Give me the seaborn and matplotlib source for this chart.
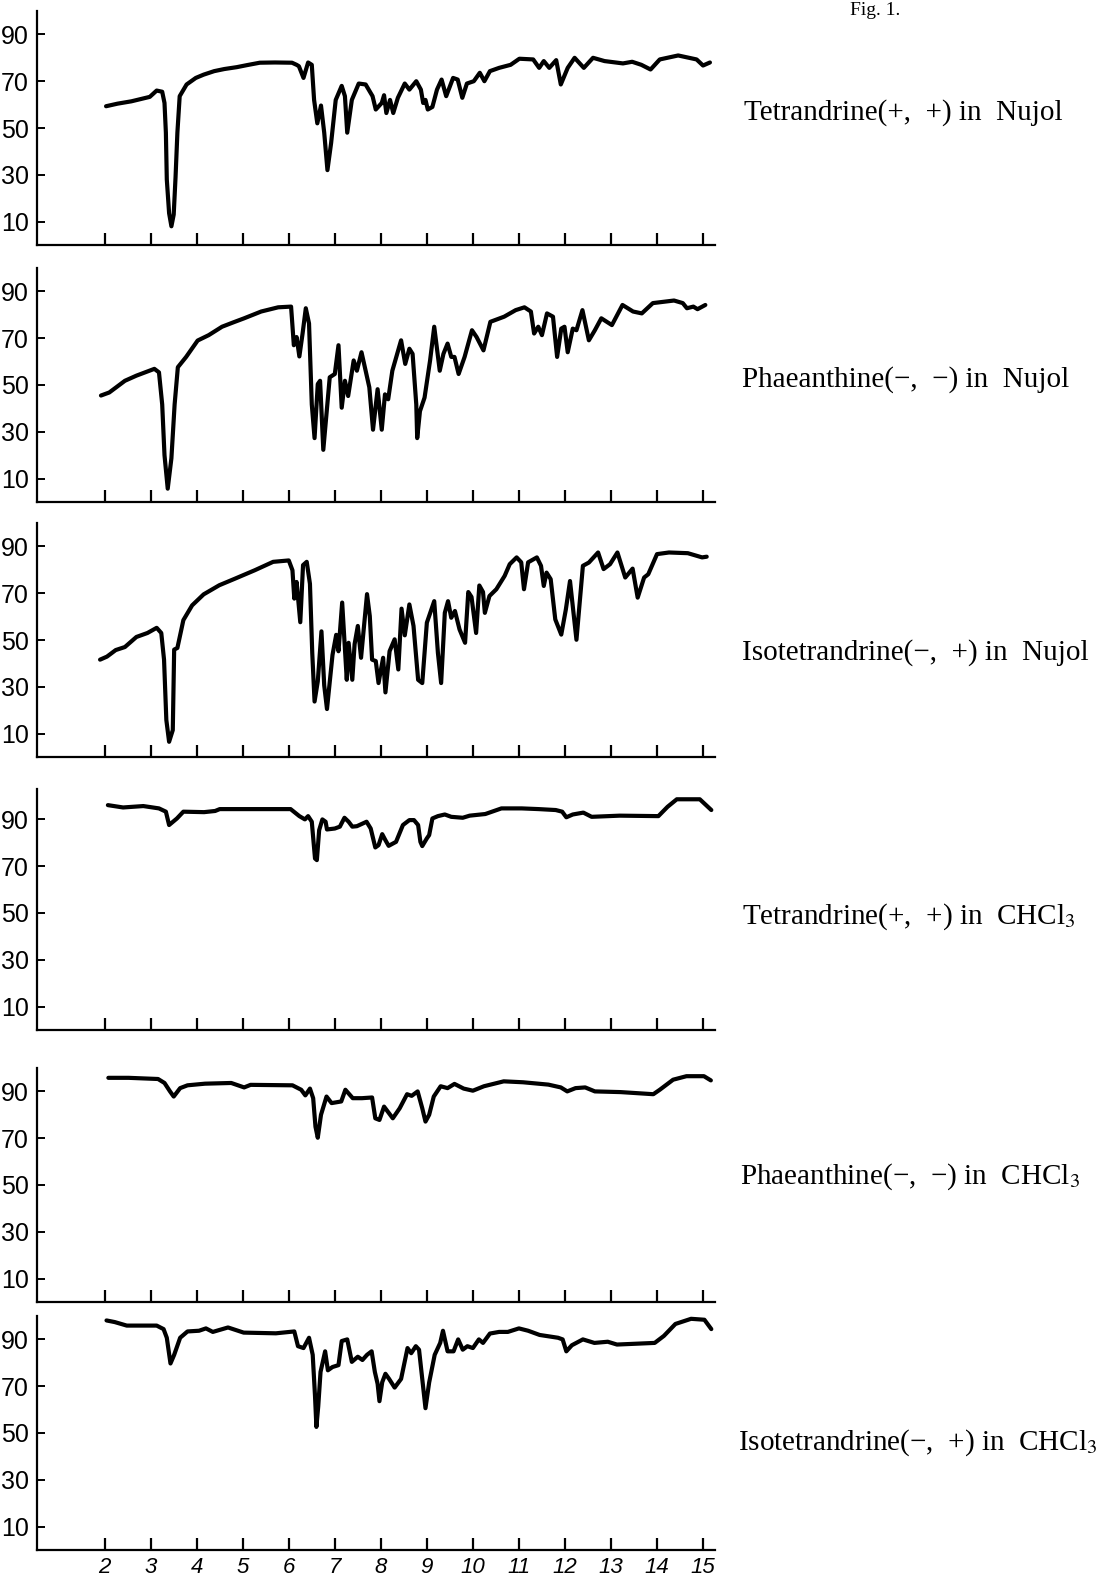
import matplotlib
matplotlib.use("Agg")
import matplotlib.pyplot as plt
import seaborn as sns
import pandas as pd

# ---------------- data (wavelength in micron, % transmittance) ----------------
tet_nujol_x = [2.03, 2.28, 2.58, 2.98, 3.13, 3.25, 3.30, 3.33, 3.35, 3.40, 3.45, 3.50, 3.54, 3.58, 3.63, 3.78,
               3.98, 4.15, 4.38, 4.60, 4.87, 5.10, 5.37, 5.70, 6.07, 6.17, 6.22, 6.32, 6.42, 6.50, 6.55, 6.62,
               6.70, 6.77, 6.84, 6.92, 7.02, 7.15, 7.22, 7.27, 7.37, 7.52, 7.67, 7.82, 7.89, 8.02, 8.07, 8.12,
               8.20, 8.27, 8.37, 8.52, 8.62, 8.77, 8.87, 8.92, 8.97, 9.02, 9.12, 9.22, 9.32, 9.42, 9.57, 9.67,
               9.77, 9.87, 10.02, 10.15, 10.25, 10.37, 10.57, 10.82, 11.01, 11.31, 11.44, 11.54, 11.66, 11.81,
               11.91, 12.06, 12.21, 12.41, 12.61, 12.86, 13.26, 13.46, 13.66, 13.86, 14.06, 14.46, 14.86, 15.00,
               15.15]
tet_nujol_y = [59.3, 60.4, 61.4, 63.3, 66.0, 65.5, 60.7, 48.0, 28.0, 13.6, 8.0, 13.0, 29.0, 48.0, 63.6, 68.6,
               71.4, 72.8, 74.3, 75.2, 76.0, 76.9, 77.9, 78.0, 77.9, 77.0, 76.4, 71.4, 78.0, 77.0, 62.0, 52.0,
               59.6, 48.0, 32.0, 43.6, 62.0, 68.0, 63.6, 48.0, 62.0, 69.0, 68.6, 63.6, 57.9, 60.7, 64.0, 56.4,
               62.0, 56.4, 62.9, 69.0, 66.4, 70.0, 66.4, 60.7, 62.0, 57.9, 59.0, 66.4, 70.7, 63.6, 71.4, 70.7,
               62.9, 69.0, 70.0, 73.6, 70.0, 74.3, 75.7, 77.0, 79.6, 79.3, 75.7, 78.6, 75.7, 79.0,
               68.6, 75.7, 80.0, 75.7, 80.0, 78.6, 77.6, 78.3, 77.0, 75.0, 79.3, 81.0, 79.3, 76.7,
               78.0]

pha_nujol_x = [1.92, 2.10, 2.25, 2.44, 2.69, 3.08, 3.18, 3.25, 3.30, 3.37, 3.45, 3.52, 3.59, 3.77, 4.02, 4.26,
               4.55, 4.80, 5.03, 5.40, 5.77, 6.05, 6.11, 6.17, 6.23, 6.30, 6.37, 6.44, 6.50, 6.56, 6.63, 6.68,
               6.75, 6.89, 7.00, 7.08, 7.15, 7.22, 7.29, 7.41, 7.48, 7.58, 7.67, 7.75, 7.83, 7.93, 8.02, 8.09,
               8.16, 8.25, 8.44, 8.53, 8.62, 8.69, 8.77, 8.79, 8.85, 8.95, 9.07, 9.16, 9.28, 9.36, 9.45, 9.53,
               9.60, 9.69, 9.82, 9.98, 10.08, 10.23, 10.38, 10.68, 10.93, 11.12, 11.26, 11.33, 11.42, 11.50,
               11.61, 11.74, 11.83, 11.92, 11.99, 12.06, 12.17, 12.25, 12.38, 12.52, 12.65, 12.79, 13.02, 13.25,
               13.48, 13.67, 13.91, 14.37, 14.56, 14.65, 14.79, 14.88, 15.05]
pha_nujol_y = [45.5, 46.8, 49.0, 51.8, 54.0, 56.9, 55.4, 41.7, 20.0, 5.7, 18.7, 41.7, 57.6, 62.0, 69.0, 71.3,
               74.9, 76.8, 78.5, 81.4, 83.2, 83.5, 67.0, 70.5, 62.2, 72.0, 82.8, 76.3, 41.7, 27.3, 50.4, 51.8,
               22.3, 53.3, 54.7, 67.0, 40.3, 51.8, 45.3, 60.5, 56.1, 64.0, 56.1, 49.0, 30.9, 48.2, 30.9, 46.0,
               43.9, 56.1, 69.1, 59.0, 65.5, 63.3, 41.7, 27.3, 38.8, 44.6, 60.5, 74.9, 56.1, 63.3, 67.7, 62.0,
               62.0, 54.7, 62.0, 73.4, 70.5, 64.8, 77.0, 79.2, 82.0, 83.2, 81.4, 72.0, 74.9, 71.3,
               80.6, 79.2, 62.0, 74.1, 74.9, 64.0, 74.1, 73.4, 82.0, 69.1, 73.4, 78.5, 75.6, 84.2,
               81.4, 80.6, 85.0, 86.1, 85.0, 82.8, 83.5, 82.4, 84.2]

iso_nujol_x = [1.90, 2.05, 2.24, 2.44, 2.69, 2.93, 3.13, 3.23, 3.29, 3.34, 3.40, 3.48, 3.51, 3.58, 3.71, 3.90,
               4.15, 4.49, 4.83, 5.26, 5.66, 6.00, 6.08, 6.12, 6.17, 6.25, 6.31, 6.39, 6.46, 6.51, 6.56, 6.63,
               6.71, 6.77, 6.83, 6.95, 7.03, 7.08, 7.16, 7.26, 7.30, 7.38, 7.43, 7.50, 7.57, 7.70, 7.76, 7.81,
               7.89, 7.95, 8.05, 8.10, 8.19, 8.30, 8.38, 8.45, 8.52, 8.62, 8.71, 8.81, 8.90, 9.00, 9.16, 9.24,
               9.31, 9.39, 9.46, 9.53, 9.61, 9.71, 9.83, 9.90, 9.97, 10.07, 10.14, 10.22, 10.26, 10.36, 10.51,
               10.69, 10.80, 10.95, 11.05, 11.11, 11.20, 11.39, 11.48, 11.54, 11.60, 11.69, 11.79, 11.92, 12.02,
               12.11, 12.25, 12.39, 12.52, 12.72, 12.84, 12.98, 13.14, 13.31, 13.47, 13.58, 13.72, 13.81, 14.00,
               14.26, 14.67, 14.98, 15.08]
iso_nujol_y = [41.6, 42.9, 45.7, 47.0, 51.3, 53.0, 55.2, 53.0, 41.6, 15.8, 6.5, 11.5, 45.9, 46.6, 58.5, 64.8,
               69.5, 73.4, 76.2, 79.8, 83.4, 84.0, 79.8, 67.7, 74.8, 57.6, 82.0, 83.4, 74.0, 44.5, 23.7, 32.3,
               53.7, 30.6, 20.5, 43.6, 52.2, 45.2, 66.0, 33.0, 48.8, 33.0, 48.2, 56.0, 42.4, 69.6, 60.2, 41.6,
               41.0, 31.6, 42.4, 27.6, 45.2, 50.3, 37.4, 63.4, 52.0, 65.2, 56.0, 33.0, 31.6, 57.4, 66.6, 44.5,
               31.6, 61.6, 66.6, 59.5, 62.4, 54.5, 48.8, 70.5, 68.4, 53.0, 73.3, 70.5, 61.6, 68.8, 71.7,
               77.4, 82.4, 85.3, 83.2, 71.7, 83.2, 85.3, 81.7, 73.1, 78.8, 76.0, 58.8, 52.3, 63.1,
               75.2, 50.1, 81.7, 83.1, 87.4, 80.3, 82.4, 87.4, 76.7, 80.5, 68.1, 76.7, 78.1, 86.7,
               87.4, 87.1, 85.3, 85.6]

tet_chcl3_x = [2.07, 2.40, 2.84, 3.18, 3.33, 3.40, 3.57, 3.71, 4.16, 4.40, 4.50, 5.11, 6.04, 6.23, 6.35, 6.42,
               6.50, 6.57, 6.61, 6.66, 6.73, 6.80, 6.83, 7.00, 7.11, 7.21, 7.30, 7.38, 7.48, 7.69, 7.78, 7.88,
               7.95, 8.03, 8.10, 8.17, 8.33, 8.48, 8.62, 8.72, 8.81, 8.86, 8.90, 9.00, 9.05, 9.12, 9.24, 9.39,
               9.53, 9.78, 9.93, 10.27, 10.62, 11.06, 11.43, 11.80, 11.94, 12.03, 12.17, 12.40, 12.58, 13.19,
               14.03, 14.23, 14.43, 14.93, 15.18]
tet_chcl3_y = [96.1, 95.1, 95.7, 94.7, 93.3, 87.6, 90.4, 93.3, 93.1, 93.6, 94.4, 94.4, 94.4, 91.4, 90.0, 91.4,
               89.0, 73.3, 72.6, 85.4, 90.0, 89.0, 85.7, 86.1, 86.9, 90.7, 89.0, 86.9, 87.1, 89.0, 86.1, 78.0,
               79.0, 83.7, 81.1, 78.7, 80.4, 87.6, 89.7, 89.7, 87.6, 80.4, 78.6, 81.9, 83.3, 90.4, 91.4, 92.1,
               91.1, 90.7, 91.6, 92.3, 94.7, 94.7, 94.4, 94.0, 93.3, 90.9, 92.1, 92.9, 91.1, 91.6,
               91.4, 95.4, 98.6, 98.6, 94.0]

pha_chcl3_x = [2.08, 2.52, 3.16, 3.30, 3.42, 3.50, 3.64, 3.80, 4.18, 4.75, 5.03, 5.17, 6.08, 6.27, 6.36, 6.46,
               6.53, 6.58, 6.63, 6.70, 6.82, 6.93, 7.14, 7.23, 7.39, 7.59, 7.81, 7.88, 7.97, 8.07, 8.15, 8.26,
               8.41, 8.57, 8.67, 8.80, 8.90, 8.97, 9.05, 9.15, 9.30, 9.45, 9.60, 9.80, 10.00, 10.24, 10.67,
               11.09, 11.64, 11.91, 12.05, 12.23, 12.44, 12.65, 13.21, 13.92, 14.06, 14.35, 14.64, 15.02, 15.17]
pha_chcl3_y = [95.8, 95.8, 95.3, 93.6, 90.0, 87.8, 91.4, 92.6, 93.3, 93.6, 91.7, 92.8, 92.6, 90.7, 88.3, 91.2,
               87.1, 74.9, 70.2, 80.0, 87.8, 85.0, 85.7, 90.7, 87.1, 87.1, 87.4, 78.5, 77.8, 83.5, 81.4, 78.5,
               82.8, 88.8, 88.1, 90.0, 82.8, 77.1, 80.0, 87.8, 92.2, 91.4, 93.2, 91.2, 90.3, 92.2, 94.3,
               93.9, 92.9, 91.7, 90.0, 91.4, 91.7, 90.0, 89.7, 88.8, 90.7, 95.0, 96.5, 96.5, 94.7]

iso_chcl3_x = [2.04, 2.22, 2.48, 3.13, 3.28, 3.35, 3.43, 3.51, 3.64, 3.80, 4.05, 4.20, 4.35, 4.68, 5.02, 5.72,
               6.12, 6.20, 6.32, 6.44, 6.52, 6.57, 6.60, 6.64, 6.69, 6.79, 6.85, 6.95, 7.08, 7.15, 7.27, 7.37,
               7.50, 7.60, 7.70, 7.80, 7.87, 7.93, 7.97, 8.03, 8.10, 8.18, 8.30, 8.44, 8.51, 8.58, 8.66, 8.76,
               8.83, 8.90, 8.97, 9.05, 9.17, 9.29, 9.35, 9.45, 9.58, 9.68, 9.78, 9.88, 10.00, 10.13, 10.22,
               10.37, 10.57, 10.76, 11.00, 11.20, 11.45, 11.85, 11.95, 12.03, 12.15, 12.39, 12.64, 12.93, 13.13,
               13.95, 14.15, 14.40, 14.74, 15.03, 15.18]
iso_chcl3_y = [98.1, 97.4, 95.9, 95.9, 94.4, 90.7, 79.7, 83.4, 90.7, 93.4, 93.7, 94.7, 93.2, 95.1, 92.9, 92.6,
               93.4, 87.1, 86.3, 90.7, 83.4, 65.8, 52.6, 61.4, 76.1, 84.9, 76.8, 78.2, 79.0, 89.3, 90.0, 80.4,
               82.6, 81.2, 83.4, 84.9, 76.1, 71.0, 63.6, 71.7, 75.3, 73.1, 69.4, 73.1, 79.7, 86.3, 84.1, 87.1,
               85.6, 73.1, 60.6, 71.6, 83.4, 88.5, 93.7, 84.9, 84.9, 90.0, 85.6, 87.1, 86.3, 90.0, 88.5,
               92.5, 93.2, 93.2, 94.7, 93.7, 91.9, 90.7, 90.0, 84.9, 87.5, 90.0, 88.5, 89.0, 87.8,
               88.5, 91.5, 96.6, 98.8, 98.4, 94.4]

panel_labels = [
    "Tetrandrine(+,  +) in  Nujol",
    "Phaeanthine(\u2212,  \u2212) in  Nujol",
    "Isotetrandrine(\u2212,  +) in  Nujol",
    "Tetrandrine(+,  +) in  CHCl$_3$",
    "Phaeanthine(\u2212,  \u2212) in  CHCl$_3$",
    "Isotetrandrine(\u2212,  +) in  CHCl$_3$",
]
x_ticks = [2, 3, 4, 5, 6, 7, 8, 9, 10, 11, 12, 13, 14, 15]
y_ticks = [10, 30, 50, 70, 90]
fig_title = "Fig. 1."

series = [(tet_nujol_x, tet_nujol_y), (pha_nujol_x, pha_nujol_y), (iso_nujol_x, iso_nujol_y),
          (tet_chcl3_x, tet_chcl3_y), (pha_chcl3_x, pha_chcl3_y), (iso_chcl3_x, iso_chcl3_y)]

# ---------------- style ----------------
sns.set_theme(style="ticks")
plt.rcParams["font.family"] = ["Liberation Sans", "DejaVu Sans"]
plt.rcParams["mathtext.fontset"] = "stix"

W, H = 1111, 1575
fig = plt.figure(figsize=(W / 100, H / 100), dpi=100)
fig.patch.set_facecolor("white")

left_px, right_px = 37, 715
bottoms_px = [245, 502, 757, 1030, 1302, 1550]
ytops = [100, 100, 100, 103, 100, 100]
px_per_unit = 2.34
label_pos = [(744, 113), (742, 380), (742, 653), (742, 917), (740, 1177), (738, 1443)]

serif = ["Liberation Serif", "DejaVu Serif"]

for i, ((xs, ys), lab) in enumerate(zip(series, panel_labels)):
    h_px = ytops[i] * px_per_unit
    ax = fig.add_axes([left_px / W, (H - bottoms_px[i]) / H, (right_px - left_px) / W, h_px / H])
    ax.set_facecolor("none")
    df = pd.DataFrame({"wavelength": xs, "T": ys})
    sns.lineplot(data=df, x="wavelength", y="T", ax=ax, color="black", linewidth=3.0,
                 estimator=None, sort=False, solid_joinstyle="round", solid_capstyle="round")
    ax.set_xlim(0.53, 15.26)
    ax.set_ylim(0, ytops[i])
    ax.set_xticks(x_ticks)
    ax.set_yticks(y_ticks)
    for s in ["top", "right"]:
        ax.spines[s].set_visible(False)
    for s in ["left", "bottom"]:
        ax.spines[s].set_linewidth(1.6)
        ax.spines[s].set_color("black")
    ax.tick_params(axis="x", direction="in", length=9, width=1.6, colors="black", pad=5,
                   labelsize=16)
    ax.tick_params(axis="y", direction="in", length=6, width=1.4, colors="black", pad=6,
                   labelsize=18)
    ax.set_xlabel("")
    ax.set_ylabel("")
    if i < 5:
        ax.set_xticklabels([])
    else:
        ax.set_xticklabels([str(t) for t in x_ticks], fontstyle="italic")
    lx, ly = label_pos[i]
    fig.text(lx / W, 1 - ly / H, lab, family=serif, fontsize=21, ha="left", va="center",
             color="black")

fig.text(875 / W, 0.999, fig_title, family=serif, fontsize=14, ha="center", va="top", color="black")

fig.savefig("out.png", dpi=100, facecolor="white")
